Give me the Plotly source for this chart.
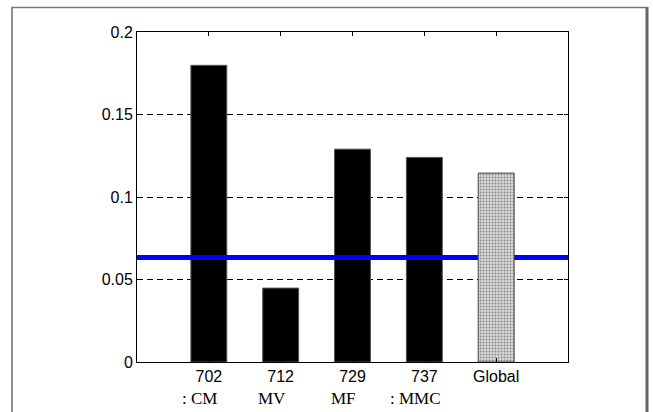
import plotly.graph_objects as go

categories = ["702", "712", "729", "737", "Global"]
values = [0.1798, 0.0448, 0.129, 0.124, 0.1145]
sub_labels = [": CM", "MV", "MF", ": MMC", ""]
threshold = 0.0634
y_ticks = [0, 0.05, 0.1, 0.15, 0.2]

pos = list(range(1, len(categories) + 1))
n_black = len(categories) - 1

fig = go.Figure()

# black bars
fig.add_trace(go.Bar(
    x=pos[:n_black], y=values[:n_black], width=0.5,
    marker=dict(color="black", line=dict(color="#555", width=1)),
    xaxis="x", yaxis="y", showlegend=False,
))
# blue threshold line
fig.add_trace(go.Scatter(
    x=[0, len(categories) + 1], y=[threshold, threshold], mode="lines",
    line=dict(color="#0000ff", width=5), xaxis="x", yaxis="y",
    showlegend=False, cliponaxis=True,
))
# Global bar drawn on top (overlay axes)
fig.add_trace(go.Bar(
    x=pos[n_black:], y=values[n_black:], width=0.5,
    marker=dict(color="#d4d4d4", line=dict(color="#444", width=1),
                pattern=dict(shape=".", fgcolor="#333", bgcolor="#d8d8d8",
                             size=3, solidity=0.35)),
    xaxis="x2", yaxis="y2", showlegend=False,
))

xr = [0, len(categories) + 1]
yr = [0, 0.2]
axfont = dict(family="Liberation Sans, Arial, sans-serif", size=16, color="black")

fig.update_layout(
    width=653, height=412,
    margin=dict(l=137, r=85, t=32, b=50),
    paper_bgcolor="white", plot_bgcolor="white",
    barmode="overlay",
    xaxis=dict(range=xr, tickvals=pos, ticktext=categories, tickfont=axfont,
               showline=True, linecolor="black", linewidth=1, mirror="ticks",
               ticks="inside", ticklen=4, tickcolor="black", showgrid=False,
               zeroline=False, fixedrange=True),
    yaxis=dict(range=yr, tickvals=y_ticks, ticktext=[str(v) for v in y_ticks],
               tickfont=axfont, showline=True, linecolor="black", linewidth=1,
               mirror="ticks", ticks="inside", ticklen=4, tickcolor="black",
               showgrid=True, gridcolor="black", gridwidth=1, griddash="6px,4px",
               zeroline=False, fixedrange=True),
    xaxis2=dict(range=xr, overlaying="x", visible=False, fixedrange=True),
    yaxis2=dict(range=yr, overlaying="y", visible=False, fixedrange=True),
)

# secondary labels below the tick labels
for p, lab in zip(pos, sub_labels):
    if lab:
        fig.add_annotation(x=p, y=-0.112, xref="x", yref="paper", text=lab,
                           showarrow=False, xshift=-9, yanchor="middle",
                           font=dict(family="Liberation Serif, Times New Roman, serif",
                                     size=17, color="black"))

# outer figure frame
W, H = 431.0, 330.0
def px_x(px):
    return (px - 137) / W
def px_y(py):
    return (362 - py) / H

fig.add_shape(type="line", xref="paper", yref="paper",
              x0=px_x(12), x1=px_x(12), y0=px_y(7), y1=px_y(420),
              line=dict(color="#222", width=1))
fig.add_shape(type="line", xref="paper", yref="paper",
              x0=px_x(12), x1=px_x(647), y0=px_y(7.5), y1=px_y(7.5),
              line=dict(color="#777", width=1.5))
fig.add_shape(type="line", xref="paper", yref="paper",
              x0=px_x(647), x1=px_x(647), y0=px_y(7), y1=px_y(420),
              line=dict(color="#666", width=3))

fig.write_html("out.html", config={"displayModeBar": False},
               post_script="document.body.style.margin='0';document.body.style.overflow='hidden';")
